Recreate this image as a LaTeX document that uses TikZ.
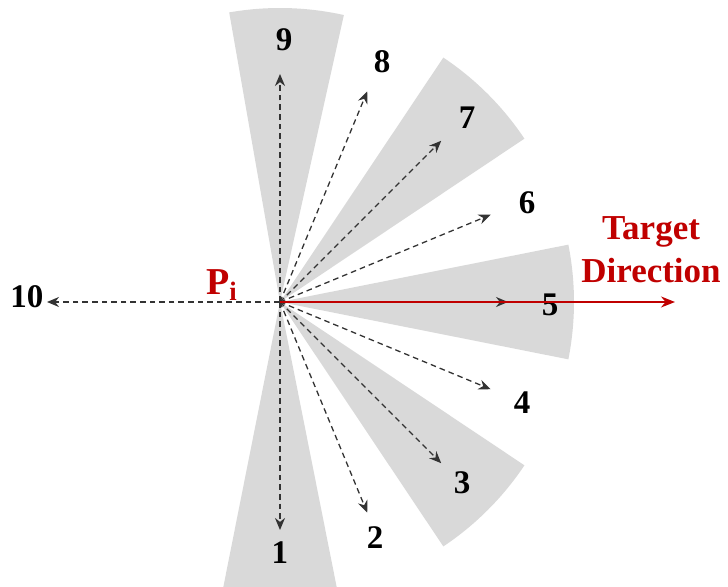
\documentclass[tikz,border=0pt]{standalone}
\usepackage{fontspec}
\setmainfont{Liberation Serif}
\usepackage{xcolor}
\usetikzlibrary{arrows.meta}
\definecolor{sectorgray}{HTML}{D9D9D9}
\definecolor{targetred}{HTML}{C00000}

\begin{document}
\begin{tikzpicture}[x=0.5pt,y=0.5pt,
  dir/.style={black!80,dash pattern=on 2.8pt off 2pt,line width=0.65pt,-{Stealth[length=6pt,width=5pt]}},
  num/.style={font=\fontsize{16.5}{18}\selectfont\bfseries}]
  \useasboundingbox (-280,-285) rectangle (448,302);
  % grey sectors round directions 1,3,5,7,9
  \foreach \a in {-90,-45,0,45,88.7}
    \fill[sectorgray] (0,0) -- (\a-11.25:294) arc[start angle=\a-11.25,end angle=\a+11.25,radius=294] -- cycle;
  \coordinate (O) at (0,0);
  % candidate directions
  \foreach \k in {1,...,9}
    \coordinate (t\k) at ({-90+22.5*(\k-1)}:228);
  \coordinate (t10) at (180:233);
  \foreach \k in {1,...,10}
    \draw[dir] (O) -- (t\k);
  \foreach \k/\x/\y in {1/0/-251,2/95/-236,3/182/-181,4/242/-101,5/270/-3,
                        6/247/99,7/187/184,8/102/240,9/4/262,10/-253/5}
    \node[num] (l\k) at (\x,\y) {\k};
  % target direction
  \coordinate (goal) at (395,0);
  \draw[targetred,line width=0.8pt,-{Stealth[length=7pt,width=5.5pt]}] (O) -- (goal);
  \node[text=targetred,align=center,font=\fontsize{17.5}{21.5}\selectfont\bfseries] (target) at (371,52) {Target\\Direction};
  \node[text=targetred,font=\fontsize{19}{22}\selectfont\bfseries] (pi) at (-58,17) {P\textsubscript{i}};
\end{tikzpicture}
\end{document}
